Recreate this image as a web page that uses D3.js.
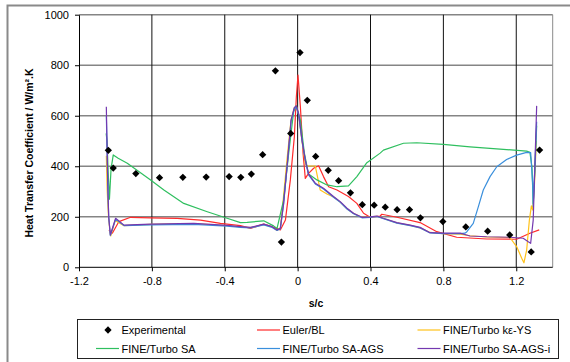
<!DOCTYPE html>
<html>
<head>
<meta charset="utf-8">
<script src="https://cdn.jsdelivr.net/npm/d3@7"></script>
<style>
  html, body { margin: 0; padding: 0; background: #fff; }
  svg { display: block; }
  text { font-family: "Liberation Sans", Arial, sans-serif; }
</style>
</head>
<body>
<svg id="chart" width="570" height="362"></svg>
<script>
// Heat transfer coefficient along the blade surface, s/c
const xTicks = [-1.2, -0.8, -0.4, 0, 0.4, 0.8, 1.2];
const xTickLabels = ["-1.2", "-0.8", "-0.4", "0", "0.4", "0.8", "1.2"];
const yTicks = [0, 200, 400, 600, 800, 1000];

// Measurements
const expS = [-1.039,-1.012,-0.888,-0.758,-0.630,-0.502,-0.376,-0.312,-0.254,-0.192,-0.122,-0.089,-0.038,0.013,0.053,0.099,0.168,0.225,0.290,0.355,0.420,0.481,0.546,0.614,0.674,0.797,0.923,1.043,1.164,1.282,1.328];
const expV = [463,393,371,355,356,357,359,356,369,446,778,100,530,850,661,439,384,343,295,248,246,238,228,228,196,181,160,143,128,61,464];

// Euler/BL
const eulerS = [-1.036,-1.017,-0.981,-0.917,-0.807,-0.661,-0.533,-0.424,-0.314,-0.259,-0.186,-0.132,-0.095,-0.067,-0.040,-0.018,-0.007,0.002,0.015,0.030,0.042,0.060,0.088,0.115,0.142,0.170,0.216,0.279,0.325,0.362,0.398,0.453,0.462,0.545,0.672,0.764,0.873,1.038,1.202,1.275,1.326];
const eulerV = [148,135,181,198,196,194,187,174,165,154,171,158,148,187,346,517,675,761,636,451,352,372,392,402,359,319,306,280,253,214,198,203,210,198,177,141,119,112,111,135,148];

// FINE/Turbo k-epsilon YS
const keS = [-1.050,-1.045,-1.038,-1.030,-1.026,-1.002,-0.953,-0.807,-0.570,-0.387,-0.314,-0.259,-0.186,-0.140,-0.113,-0.095,-0.080,-0.058,-0.036,-0.018,-0.007,0.005,0.024,0.042,0.050,0.097,0.124,0.161,0.197,0.234,0.271,0.307,0.353,0.398,0.435,0.471,0.545,0.618,0.672,0.727,0.800,0.892,0.946,1.038,1.165,1.202,1.230,1.242,1.257,1.272,1.283,1.290,1.300,1.310];
const keV = [442,299,200,140,124,185,165,170,173,165,160,157,170,160,146,156,260,430,585,632,638,608,500,410,401,401,306,290,278,258,232,213,198,200,202,193,176,166,156,138,133,131,125,120,118,82,36,18,68,187,243,227,330,500];

// FINE/Turbo SA
const saS = [-1.051,-1.046,-1.040,-1.033,-1.024,-1.012,-0.985,-0.935,-0.870,-0.807,-0.734,-0.625,-0.496,-0.387,-0.314,-0.277,-0.186,-0.132,-0.113,-0.077,-0.049,-0.022,-0.009,0.015,0.037,0.060,0.106,0.161,0.216,0.279,0.325,0.380,0.453,0.471,0.581,0.654,0.800,0.946,1.129,1.257,1.275,1.286,1.293,1.302,1.312];
const saV = [530,500,380,270,390,445,432,412,378,346,306,253,220,194,177,178,184,164,154,266,452,616,639,583,452,369,346,326,319,322,359,414,452,464,491,493,487,477,467,460,455,398,253,385,560];

// FINE/Turbo SA-AGS
const agsS = [-1.050,-1.046,-1.042,-1.037,-1.028,-0.999,-0.953,-0.807,-0.570,-0.387,-0.314,-0.259,-0.186,-0.140,-0.113,-0.095,-0.077,-0.055,-0.036,-0.018,-0.007,0.005,0.024,0.042,0.060,0.097,0.142,0.197,0.234,0.271,0.307,0.353,0.398,0.435,0.471,0.545,0.618,0.672,0.727,0.800,0.892,0.918,0.928,0.964,0.992,1.019,1.056,1.093,1.147,1.202,1.257,1.279,1.290,1.293,1.302,1.312];
const agsV = [600,470,320,200,126,190,165,168,170,163,158,156,168,158,146,152,250,420,578,628,634,606,500,423,366,330,310,277,257,231,212,196,198,201,192,175,165,156,136,133,133,135,140,174,240,306,359,398,427,444,455,454,333,240,398,576];

// FINE/Turbo SA-AGS-i
const agsiS = [-1.050,-1.046,-1.042,-1.037,-1.028,-0.999,-0.953,-0.807,-0.570,-0.387,-0.314,-0.259,-0.186,-0.140,-0.113,-0.095,-0.077,-0.055,-0.036,-0.018,-0.007,0.005,0.024,0.042,0.060,0.097,0.142,0.197,0.234,0.271,0.307,0.353,0.398,0.435,0.471,0.545,0.618,0.672,0.727,0.800,0.892,0.946,1.038,1.165,1.238,1.266,1.279,1.293,1.302,1.312];
const agsiV = [636,480,330,200,128,194,167,171,174,166,161,158,171,161,148,154,253,425,583,633,639,610,504,425,369,333,313,280,260,234,214,198,200,203,194,177,167,158,137,135,135,124,121,119,115,101,95,187,398,639];

const series = [
  { name: "Euler/BL", color: "#ff2b2b", s: eulerS, v: eulerV },
  { name: "FINE/Turbo kε-YS", color: "#ffc21a", s: keS, v: keV },
  { name: "FINE/Turbo SA", color: "#2fbf5f", s: saS, v: saV },
  { name: "FINE/Turbo SA-AGS", color: "#3a8fdc", s: agsS, v: agsV },
  { name: "FINE/Turbo SA-AGS-i", color: "#7438b0", s: agsiS, v: agsiV }
];

const svg = d3.select("#chart");
const plotL = 79, plotR = 552.7, plotT = 14.7, plotB = 267.3;

const x = d3.scaleLinear().domain([-1.2, 1.4]).range([plotL, plotR]);
const y = d3.scaleLinear().domain([0, 1000]).range([plotB, plotT]);

// outer frame (left and top edges)
svg.append("path")
  .attr("d", "M7.5,362 L7.5,5.5 L570,5.5")
  .attr("fill", "none").attr("stroke", "#8a8a8a").attr("stroke-width", 2);

// horizontal gridlines
svg.append("g").selectAll("line").data(yTicks.filter(d => d > 0)).join("line")
  .attr("x1", plotL).attr("x2", plotR)
  .attr("y1", d => y(d)).attr("y2", d => y(d))
  .attr("stroke", "#858585").attr("stroke-width", 1.6);

// vertical gridlines
svg.append("g").selectAll("line").data(xTicks.filter(d => d > -1.2)).join("line")
  .attr("x1", d => x(d)).attr("x2", d => x(d))
  .attr("y1", plotT).attr("y2", plotB)
  .attr("stroke", "#111").attr("stroke-width", 1);

// right edge of the plot area
svg.append("line").attr("x1", plotR).attr("x2", plotR).attr("y1", plotT).attr("y2", plotB)
  .attr("stroke", "#8a8a8a").attr("stroke-width", 1);

// axes
const xAxis = d3.axisBottom(x).tickValues(xTicks)
  .tickFormat((d, i) => xTickLabels[i]).tickSizeInner(4).tickSizeOuter(0).tickPadding(6);
const gx = svg.append("g").attr("transform", `translate(0,${plotB})`).call(xAxis);
gx.select(".domain").attr("stroke", "#000").attr("d", `M${plotL},0H${plotR}`);
gx.selectAll(".tick line").attr("stroke", "#000");
gx.selectAll("text").attr("font-size", 11).attr("fill", "#000").attr("font-family", "Liberation Sans, Arial, sans-serif");

const yAxis = d3.axisLeft(y).tickValues(yTicks).tickFormat(d3.format("d")).tickSizeInner(4).tickSizeOuter(0).tickPadding(6);
const gy = svg.append("g").attr("transform", `translate(${plotL},0)`).call(yAxis);
gy.select(".domain").attr("stroke", "#000");
gy.selectAll(".tick line").attr("stroke", "#000");
gy.selectAll("text").attr("font-size", 11).attr("fill", "#000").attr("font-family", "Liberation Sans, Arial, sans-serif");

// axis titles
svg.append("text").attr("x", 316).attr("y", 307).attr("text-anchor", "middle")
  .attr("font-size", 10.5).attr("font-weight", "bold").text("s/c");
svg.append("text").attr("transform", "translate(33,153) rotate(-90)").attr("text-anchor", "middle")
  .attr("font-size", 10.5).attr("font-weight", "bold").text("Heat Transfer Coefficient / W/m².K");

// curves
const line = d3.line().x(d => x(d[0])).y(d => y(d[1]));
const plot = svg.append("g");
series.forEach(sr => {
  plot.append("path")
    .datum(sr.s.map((s, i) => [s, sr.v[i]]))
    .attr("d", line)
    .attr("fill", "none").attr("stroke", sr.color).attr("stroke-width", 1.2)
    .attr("stroke-linejoin", "round");
});

// experimental points
const diamond = d3.symbol().type(d3.symbolDiamond2).size(34);
plot.selectAll("path.exp").data(expS.map((s, i) => [s, expV[i]])).join("path")
  .attr("class", "exp")
  .attr("transform", d => `translate(${x(d[0])},${y(d[1])})`)
  .attr("d", diamond).attr("fill", "#000");

// legend
const lg = svg.append("g");
lg.append("rect").attr("x", 77.5).attr("y", 319.5).attr("width", 481).attr("height", 39)
  .attr("fill", "#fff").attr("stroke", "#222").attr("stroke-width", 1);
const legendItems = [
  { name: "Experimental", marker: true, col: 0, row: 0 },
  { name: series[0].name, color: series[0].color, col: 1, row: 0 },
  { name: series[1].name, color: series[1].color, col: 2, row: 0 },
  { name: series[2].name, color: series[2].color, col: 0, row: 1 },
  { name: series[3].name, color: series[3].color, col: 1, row: 1 },
  { name: series[4].name, color: series[4].color, col: 2, row: 1 }
];
const colX = [96, 257, 417.5];
const rowY = [330, 348.5];
legendItems.forEach(it => {
  const x0 = colX[it.col], yy = rowY[it.row];
  if (it.marker) {
    lg.append("path").attr("transform", `translate(${x0 + 12},${yy})`).attr("d", diamond).attr("fill", "#000");
  } else {
    lg.append("line").attr("x1", x0).attr("x2", x0 + 23).attr("y1", yy).attr("y2", yy)
      .attr("stroke", it.color).attr("stroke-width", 1.2);
  }
  lg.append("text").attr("x", x0 + 25.5).attr("y", yy + 4).attr("font-size", 11).text(it.name);
});
</script>
</body>
</html>
